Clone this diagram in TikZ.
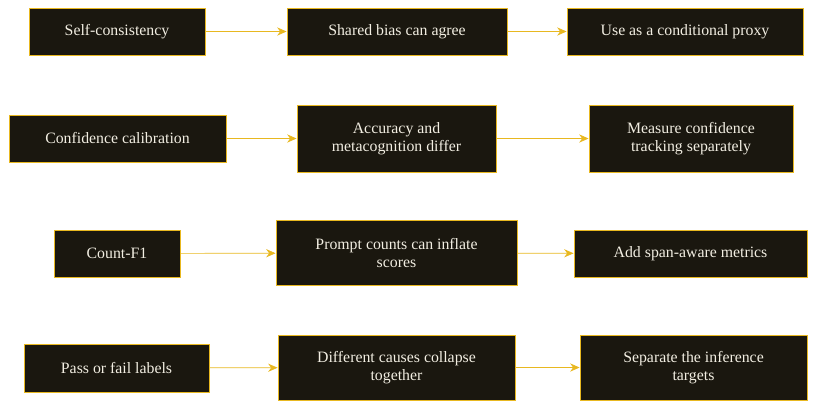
\documentclass[tikz,border=0pt]{standalone}
\usepackage{fontspec}
\setmainfont{Liberation Serif}
\usetikzlibrary{arrows.meta, positioning}
\definecolor{boxfill}{HTML}{1A170F}
\definecolor{gold}{HTML}{E8B820}
\definecolor{paper}{HTML}{F2EEE2}

\begin{document}
\begin{tikzpicture}[x=0.03cm, y=-0.03cm,
        box/.style={draw=gold, fill=boxfill, text=paper, thick, align=center,
            inner sep=2pt, font=\rmfamily\fontsize{13.5}{15}\selectfont},
        link/.style={draw=gold, -{Stealth[length=8pt, width=7pt]}, line width=0.6pt}
    ]
        \useasboundingbox (0,0) rectangle (823,408);

        % Row 1
        \node[box, minimum width=176*0.03cm, minimum height=47*0.03cm] (sc) at (117,31.5) {Self-consistency};
        \node[box, minimum width=220*0.03cm, minimum height=47*0.03cm] (bias) at (397,31.5) {Shared bias can agree};
        \node[box, minimum width=236*0.03cm, minimum height=47*0.03cm] (proxy) at (685,31.5) {Use as a conditional proxy};

        % Row 2
        \node[box, minimum width=217*0.03cm, minimum height=47*0.03cm] (calib) at (117.5,138.5) {Confidence calibration};
        \node[box, minimum width=199*0.03cm, minimum height=67*0.03cm] (meta) at (396.5,138.5) {Accuracy and\\metacognition differ};
        \node[box, minimum width=204*0.03cm, minimum height=67*0.03cm] (track) at (691,138.5) {Measure confidence\\tracking separately};

        % Row 3
        \node[box, minimum width=126*0.03cm, minimum height=47*0.03cm] (count) at (117,253.5) {Count-F1};
        \node[box, minimum width=241*0.03cm, minimum height=65*0.03cm] (inflate) at (396.5,253) {Prompt counts can inflate\\scores};
        \node[box, minimum width=233*0.03cm, minimum height=47*0.03cm] (span) at (690.5,253.5) {Add span-aware metrics};

        % Row 4
        \node[box, minimum width=185*0.03cm, minimum height=48*0.03cm] (pass) at (116.5,368) {Pass or fail labels};
        \node[box, minimum width=237*0.03cm, minimum height=65*0.03cm] (collapse) at (396.5,367.5) {Different causes collapse\\together};
        \node[box, minimum width=227*0.03cm, minimum height=65*0.03cm] (targets) at (693.5,367.5) {Separate the inference\\targets};

        % Connectors
        \draw[link] (sc) -- (bias);
        \draw[link] (bias) -- (proxy);
        \draw[link] (calib) -- (meta);
        \draw[link] (meta) -- (track);
        \draw[link] (count) -- (inflate);
        \draw[link] (inflate) -- (span);
        \draw[link] (pass) -- (collapse);
        \draw[link] (collapse) -- (targets);
    \end{tikzpicture}
\end{document}
